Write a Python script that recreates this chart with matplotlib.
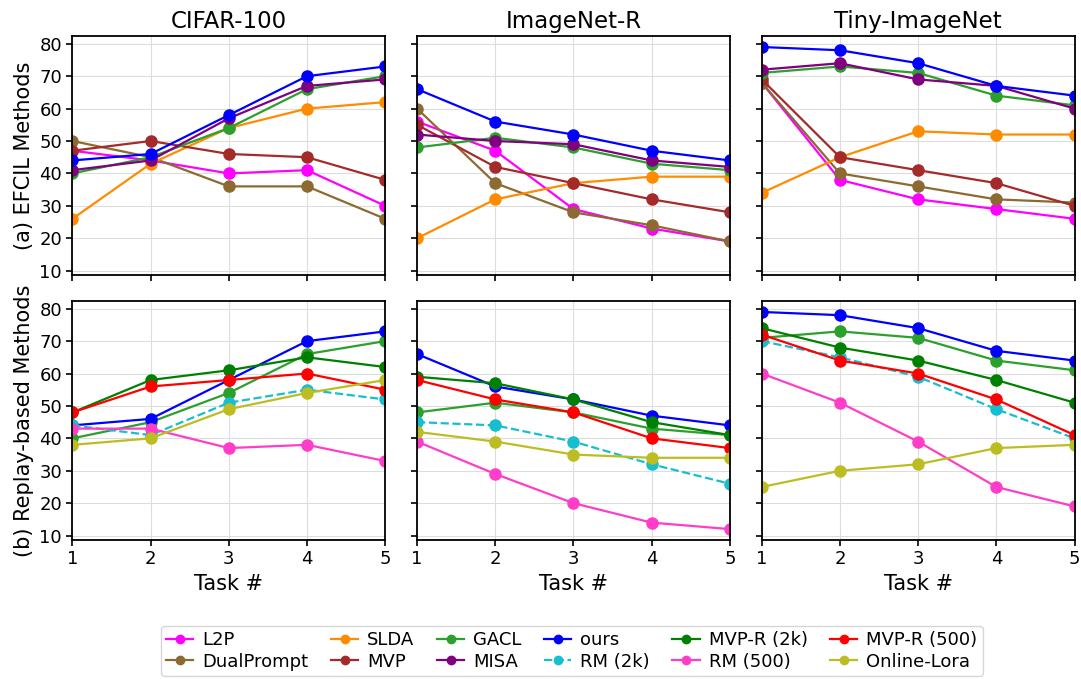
import numpy as np
import matplotlib
matplotlib.use("Agg")
import matplotlib.pyplot as plt

tasks = [1, 2, 3, 4, 5]
datasets = ["CIFAR-100", "ImageNet-R", "Tiny-ImageNet"]

# EFCIL methods
l2p = [[47, 44, 40, 41, 30], [56, 47, 29, 23, 19], [68, 38, 32, 29, 26]]
dualprompt = [[50, 45, 36, 36, 26], [60, 37, 28, 24, 19], [68, 40, 36, 32, 31]]
slda = [[26, 43, 54, 60, 62], [20, 32, 37, 39, 39], [34, 45, 53, 52, 52]]
mvp = [[47, 50, 46, 45, 38], [55, 42, 37, 32, 28], [69, 45, 41, 37, 30]]
gacl_a = [[40, 45, 54, 66, 70], [48, 51, 48, 43, 41], [71, 73, 71, 64, 61]]
misa = [[41, 44, 57, 67, 69], [52, 50, 49, 44, 42], [72, 74, 69, 67, 60]]
ours_a = [[44, 46, 58, 70, 73], [66, 56, 52, 47, 44], [79, 78, 74, 67, 64]]

# Replay-based methods
gacl_b = [[40, 45, 54, 66, 70], [48, 51, 48, 43, 41], [71, 73, 71, 64, 61]]
ours_b = [[44, 46, 58, 70, 73], [66, 56, 52, 47, 44], [79, 78, 74, 67, 64]]
rm_2k = [[44, 41, 51, 55, 52], [45, 44, 39, 32, 26], [70, 65, 59, 49, 40]]
mvpr_2k = [[48, 58, 61, 65, 62], [59, 57, 52, 45, 41], [74, 68, 64, 58, 51]]
rm_500 = [[43, 43, 37, 38, 33], [39, 29, 20, 14, 12], [60, 51, 39, 25, 19]]
mvpr_500 = [[48, 56, 58, 60, 55], [58, 52, 48, 40, 37], [72, 64, 60, 52, 41]]
online_lora = [[38, 40, 49, 54, 58], [42, 39, 35, 34, 34], [25, 30, 32, 37, 38]]

efcil = [("L2P", l2p, "magenta", "-"),
         ("DualPrompt", dualprompt, "#8c6a32", "-"),
         ("SLDA", slda, "darkorange", "-"),
         ("MVP", mvp, "#a52a2a", "-"),
         ("GACL", gacl_a, "#2ca02c", "-"),
         ("MISA", misa, "purple", "-"),
         ("ours", ours_a, "blue", "-")]
replay = [("GACL", gacl_b, "#2ca02c", "-"),
          ("ours", ours_b, "blue", "-"),
          ("RM (2k)", rm_2k, "#17becf", "--"),
          ("MVP-R (2k)", mvpr_2k, "green", "-"),
          ("RM (500)", rm_500, "#ff3dc8", "-"),
          ("MVP-R (500)", mvpr_500, "red", "-"),
          ("Online-Lora", online_lora, "#bcbd22", "-")]

fig, axes = plt.subplots(2, 3, figsize=(10.81, 6.79), dpi=100, sharex=True, sharey=True)
plt.subplots_adjust(left=0.067, right=0.994, top=0.947, bottom=0.205, wspace=0.102, hspace=0.109)

handles = {}
for row, group in enumerate([efcil, replay]):
    for col in range(3):
        ax = axes[row, col]
        for name, vals, color, ls in group:
            h, = ax.plot(tasks, vals[col], color=color, linestyle=ls, marker="o",
                         markersize=8, linewidth=1.6, label=name)
            handles.setdefault(name, h)
        ax.grid(True, color="#dddddd", linewidth=0.8)
        ax.set_axisbelow(True)
        for s in ax.spines.values():
            s.set_linewidth(1.3)
        ax.tick_params(labelsize=13, width=1.2, length=4)
        if row == 0:
            ax.set_title(datasets[col], fontsize=16.5)
        else:
            ax.set_xlabel("Task #", fontsize=15)

axes[0, 0].set_xlim(1, 5)
axes[0, 0].set_ylim(8.7, 82.4)
axes[0, 0].set_xticks(tasks)
axes[0, 0].set_yticks(np.arange(10, 81, 10))
axes[0, 0].set_ylabel("(a) EFCIL Methods", fontsize=15)
axes[1, 0].set_ylabel("(b) Replay-based Methods", fontsize=15)

order = ["L2P", "DualPrompt", "SLDA", "MVP", "GACL", "MISA", "ours", "RM (2k)",
         "MVP-R (2k)", "RM (500)", "MVP-R (500)", "Online-Lora"]
fig.legend([handles[n] for n in order], order, loc="upper center",
           bbox_to_anchor=(0.529, 0.092), ncol=6, fontsize=13,
           handlelength=1.5, columnspacing=1.25, handletextpad=0.5,
           borderpad=0.3, labelspacing=0.2, markerscale=0.75)

fig.savefig("out.png", dpi=100)
